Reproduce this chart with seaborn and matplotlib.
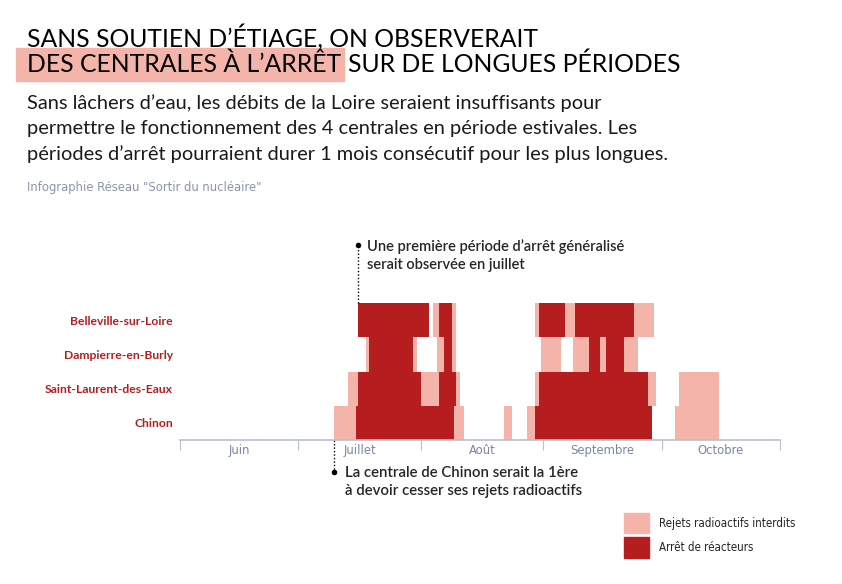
import matplotlib
matplotlib.use("Agg")
import matplotlib.pyplot as plt
import matplotlib.patches as mpatches
from matplotlib import font_manager
import seaborn as sns

# Data: intervals in days counted from 1 June
centrales = ["Chinon", "Saint-Laurent-des-Eaux", "Dampierre-en-Burly", "Belleville-sur-Loire"]

rejets_belleville = [(64, 70), (90, 120)]
rejets_dampierre = [(47, 60), (65, 70), (91.5, 96.5), (99.5, 116)]
rejets_saint_laurent = [(42.5, 71), (90, 120.5), (126.5, 136.5)]
rejets_chinon = [(39, 72), (82, 84), (88, 119.5), (125.5, 136.5)]

arret_belleville = [(45, 63), (65.5, 69), (91, 97.5), (100, 115)]
arret_dampierre = [(48, 59), (67, 69), (103.5, 106.5), (108, 112.5)]
arret_saint_laurent = [(45, 61), (65.5, 70), (91, 118.5)]
arret_chinon = [(44.5, 69.5), (90, 119.5)]

mois = ["Juin", "Juillet", "Août", "Septembre", "Octobre"]
debut_mois = [0, 30, 61, 92, 122, 152]

rejets = [rejets_chinon, rejets_saint_laurent, rejets_dampierre, rejets_belleville]
arrets = [arret_chinon, arret_saint_laurent, arret_dampierre, arret_belleville]

ROSE = "#f4b4a9"
ROUGE = "#b51d1f"
GRIS = "#7c85a3"

sns.set_style("white")
plt.rcParams["font.family"] = ["Lato", "DejaVu Sans"]
narrow = font_manager.FontProperties(family="DejaVu Sans", stretch="condensed")

fig = plt.figure(figsize=(8.42, 5.84), dpi=100)
ax = fig.add_axes([180 / 842, 1 - 440 / 584, 600 / 842, 137 / 584])

for i, (r, a) in enumerate(zip(rejets, arrets)):
    ax.barh([i] * len(r), [e - s for s, e in r], left=[s for s, e in r],
            height=1.0, color=ROSE, edgecolor="none")
    ax.barh([i] * len(a), [e - s for s, e in a], left=[s for s, e in a],
            height=1.0, color=ROUGE, edgecolor="none")

ax.set_xlim(debut_mois[0], debut_mois[-1])
ax.set_ylim(-0.5, len(centrales) - 0.5)
ax.set_yticks(range(len(centrales)))
ax.set_yticklabels(centrales, color=ROUGE, fontsize=8.7, fontweight="bold")
ax.tick_params(axis="y", length=0, pad=5)

ax.set_xticks(debut_mois)
ax.set_xticklabels([])
ax.set_xticks([(debut_mois[i] + debut_mois[i + 1]) / 2 for i in range(len(mois))], minor=True)
ax.set_xticklabels(mois, minor=True, color=GRIS, fontproperties=narrow, fontsize=9.3)
ax.tick_params(axis="x", which="major", length=7, color="#b9bfd0", direction="out", bottom=True)
ax.tick_params(axis="x", which="minor", length=0, pad=3)

sns.despine(ax=ax, left=True)
ax.spines["bottom"].set_color("#b9bfd0")
ax.spines["bottom"].set_linewidth(1.2)

# annotations
row_px = 137 / 4
y_top = len(centrales) - 0.5 + (304 - 246) / row_px
ax.plot([45, 45], [len(centrales) - 0.5, y_top], ls=(0, (1, 1.5)), color="black", lw=1, clip_on=False)
ax.plot([45], [y_top], "o", color="black", ms=3, clip_on=False)
ax.text(47.3, y_top + 6 / row_px, "Une première période d’arrêt généralisé\nserait observée en juillet",
        fontsize=10.5, fontweight="semibold", va="top", ha="left", linespacing=1.35, clip_on=False)

y_bot = -0.5 - (472 - 440) / row_px
ax.plot([39, 39], [-0.5, y_bot], ls=(0, (1, 1.5)), color="black", lw=1, clip_on=False)
ax.plot([39], [y_bot], "o", color="black", ms=3, clip_on=False)
ax.text(41.8, y_bot + 6 / row_px, "La centrale de Chinon serait la 1ère\nà devoir cesser ses rejets radioactifs",
        fontsize=10.8, fontweight="semibold", va="top", ha="left", linespacing=1.32, clip_on=False)

# titles
fig.text(27 / 842, 1 - 37 / 584, "SANS SOUTIEN D’ÉTIAGE, ON OBSERVERAIT", fontsize=17.8,
         va="center", ha="left", color="black")
t2 = fig.text(27 / 842, 1 - 64 / 584, "DES CENTRALES À L’ARRÊT", fontsize=17.8,
              va="center", ha="left", color="black", zorder=3)
fig.canvas.draw()
bb = t2.get_window_extent()
fig.patches.append(mpatches.Rectangle((16 / 842, 1 - 81 / 584), (bb.x1 + 3 - 16) / 842, 33 / 584,
                                      transform=fig.transFigure, color=ROSE, zorder=1))
fig.text((bb.x1 + 7) / 842, 1 - 64 / 584, "SUR DE LONGUES PÉRIODES", fontsize=17.8,
         va="center", ha="left", color="black")

fig.text(27 / 842, 1 - 94 / 584,
         "Sans lâchers d’eau, les débits de la Loire seraient insuffisants pour\n"
         "permettre le fonctionnement des 4 centrales en période estivales. Les\n"
         "périodes d’arrêt pourraient durer 1 mois consécutif pour les plus longues.",
         fontsize=14.4, va="top", ha="left", linespacing=1.55, color="#1a1a1a")
fig.text(27 / 842, 1 - 187 / 584, "Infographie Réseau \"Sortir du nucléaire\"",
         fontproperties=narrow, fontsize=9.3, va="center", ha="left", color="#8c94ae")

handles = [mpatches.Patch(color=ROSE, label="Rejets radioactifs interdits"),
           mpatches.Patch(color=ROUGE, label="Arrêt de réacteurs")]
leg_font = narrow.copy()
leg_font.set_size(8.3)
fig.legend(handles=handles, loc="upper left", bbox_to_anchor=(614 / 842, 1 - 503 / 584),
           frameon=False, handlelength=2.1, handleheight=2.3, handletextpad=0.9,
           labelspacing=0.35, prop=leg_font)

fig.savefig("out.png", dpi=100)
